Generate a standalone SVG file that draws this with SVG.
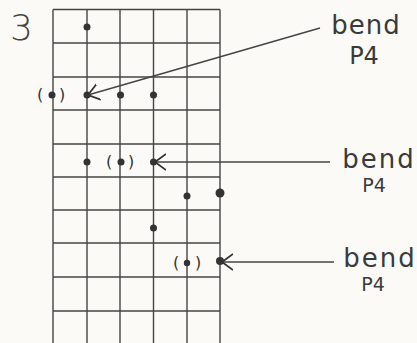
<svg xmlns="http://www.w3.org/2000/svg" width="417" height="343" viewBox="0 0 417 343">
  <style>
    .grid line { stroke: #444; stroke-width: 1.4; }
    .dot { fill: #333; }
    .par { font-family: "DejaVu Sans", sans-serif; font-size: 16px; fill: #333; }
    .lbl { font-family: "DejaVu Sans", sans-serif; fill: #3a3a3a; text-anchor: middle; }
    .conn { stroke: #444; stroke-width: 1.4; fill: none; }
  </style>
  <defs>
    <marker id="chev" markerUnits="userSpaceOnUse" markerWidth="20" markerHeight="20" refX="11" refY="10" orient="auto">
      <path d="M0,2 L11,10 L0,18" fill="none" stroke="#333" stroke-width="1.8"/>
    </marker>
  </defs>
  <rect width="417" height="343" fill="#fbfaf6"/>
  <text x="10" y="40" font-family="DejaVu Sans, sans-serif" font-size="36" font-weight="300" fill="#444">3</text>
  <g id="fretboard" class="grid">
    <line x1="53" y1="9.5" x2="53" y2="343"/>
    <line x1="87" y1="9.5" x2="87" y2="343"/>
    <line x1="120" y1="9.5" x2="120" y2="343"/>
    <line x1="153.5" y1="9.5" x2="153.5" y2="343"/>
    <line x1="187" y1="9.5" x2="187" y2="343"/>
    <line x1="220" y1="9.5" x2="220" y2="343"/>
    <line x1="53" y1="9.5" x2="220" y2="9.5"/>
    <line x1="53" y1="43" x2="220" y2="43"/>
    <line x1="53" y1="77" x2="220" y2="77"/>
    <line x1="53" y1="110" x2="220" y2="110"/>
    <line x1="53" y1="144" x2="220" y2="144"/>
    <line x1="53" y1="177" x2="220" y2="177"/>
    <line x1="53" y1="210" x2="220" y2="210"/>
    <line x1="53" y1="243" x2="220" y2="243"/>
    <line x1="53" y1="277" x2="220" y2="277"/>
    <line x1="53" y1="311" x2="220" y2="311"/>
  </g>
  <g id="notes">
    <circle class="dot" cx="87" cy="27" r="3.5"/>
    <g id="ghost1"><text class="par" x="37" y="100">(</text><circle class="dot" cx="52" cy="95" r="3.5"/><text class="par" x="59" y="100">)</text></g>
    <circle class="dot" cx="87" cy="95" r="3.5"/>
    <circle class="dot" cx="120.5" cy="95" r="3.5"/>
    <circle class="dot" cx="153.5" cy="95" r="3.5"/>
    <circle class="dot" cx="87" cy="162" r="3.5"/>
    <g id="ghost2"><text class="par" x="106" y="167">(</text><circle class="dot" cx="121" cy="162" r="3.5"/><text class="par" x="128" y="167">)</text></g>
    <circle class="dot" cx="153.5" cy="162" r="3.5"/>
    <circle class="dot" cx="187" cy="196" r="3.5"/>
    <circle class="dot" cx="220" cy="193" r="4.5"/>
    <circle class="dot" cx="153.5" cy="228" r="3.5"/>
    <g id="ghost3"><text class="par" x="173" y="268">(</text><circle class="dot" cx="187" cy="263" r="3.2"/><text class="par" x="195" y="268">)</text></g>
    <circle class="dot" cx="220" cy="261" r="4"/>
  </g>
  <g id="connectors">
    <line class="conn" x1="320" y1="28" x2="88" y2="95" marker-end="url(#chev)"/>
    <line class="conn" x1="330" y1="162" x2="155" y2="162" marker-end="url(#chev)"/>
    <line class="conn" x1="334" y1="262" x2="222" y2="262" marker-end="url(#chev)"/>
  </g>
  <g id="label1">
    <text class="lbl" font-size="26"><tspan x="366" y="34" letter-spacing="1">bend</tspan><tspan x="364" y="64" font-size="24">P4</tspan></text>
  </g>
  <g id="label2">
    <text class="lbl" font-size="26"><tspan x="379" y="168" letter-spacing="2">bend</tspan><tspan x="374" y="192" font-size="19">P4</tspan></text>
  </g>
  <g id="label3">
    <text class="lbl" font-size="26"><tspan x="380" y="267" letter-spacing="2">bend</tspan><tspan x="373" y="291" font-size="19">P4</tspan></text>
  </g>
</svg>
